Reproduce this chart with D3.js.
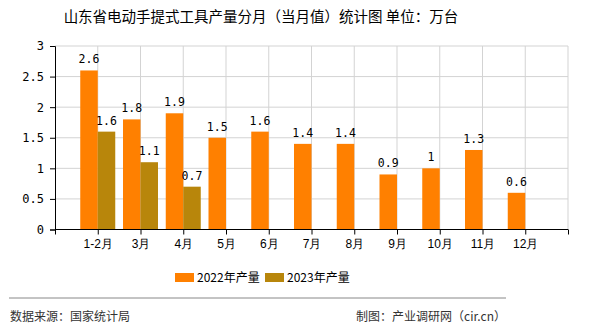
<!DOCTYPE html>
<html><head><meta charset="utf-8">
<script src="https://cdn.jsdelivr.net/npm/d3@7"></script>
<style>body{margin:0;background:#fff;}svg{display:block;font-family:"Noto Sans CJK SC","DejaVu Sans",sans-serif;}</style>
</head><body><svg id="c" width="590" height="330"></svg>
<script>
const categories = ["1-2月","3月","4月","5月","6月","7月","8月","9月","10月","11月","12月"];
const values2022 = [2.6,1.8,1.9,1.5,1.6,1.4,1.4,0.9,1,1.3,0.6];
const values2023 = [1.6,1.1,0.7];
const yTicks = [0,0.5,1,1.5,2,2.5,3];
const seriesNames = ["2022年产量","2023年产量"];
const colors = ["#FF8000","#B8860B"];

const svg = d3.select("#c");
const L=55,R=568,T=46,B=229.5;
const x = d3.scaleLinear().domain([0,categories.length+1]).range([L,R]);
const y = d3.scaleLinear().domain([0,3]).range([B,T]);
const bw = 17.5;

svg.append("text").attr("x",261).attr("y",22).attr("text-anchor","middle")
  .attr("font-size",14.5).attr("fill","#000").text("山东省电动手提式工具产量分月（当月值）统计图 单位：万台");

// grid
const g = svg.append("g");
g.selectAll(".hg").data(yTicks.slice(1)).join("line")
  .attr("x1",L).attr("x2",R).attr("y1",d=>y(d)).attr("y2",d=>y(d))
  .attr("stroke","#d3d3d3").attr("stroke-width",1);
g.selectAll(".vg").data(d3.range(1,categories.length+2)).join("line")
  .attr("x1",d=>x(d)).attr("x2",d=>x(d)).attr("y1",T).attr("y2",B)
  .attr("stroke","#d3d3d3").attr("stroke-width",1);

// bars
svg.append("g").selectAll("rect").data(values2022).join("rect")
  .attr("x",(d,i)=>x(i+1)-bw).attr("width",bw)
  .attr("y",d=>y(d)).attr("height",d=>B-y(d)).attr("fill",colors[0]);
svg.append("g").selectAll("rect").data(values2023).join("rect")
  .attr("x",(d,i)=>x(i+1)).attr("width",bw)
  .attr("y",d=>y(d)).attr("height",d=>B-y(d)).attr("fill",colors[1]);

// labels
const lab = svg.append("g").attr("font-size",11.5).attr("fill","#000").attr("text-anchor","middle")
  .attr("font-family","'DejaVu Sans Mono',monospace");
lab.selectAll(".a").data(values2022).join("text")
  .attr("x",(d,i)=>x(i+1)-bw/2).attr("y",d=>y(d)-7).text(d=>d);
lab.selectAll(".b").data(values2023).join("text")
  .attr("x",(d,i)=>x(i+1)+bw/2).attr("y",d=>y(d)-7).text(d=>d);

// axes
const yAxis = d3.axisLeft(y).tickValues(yTicks).tickSize(5).tickFormat(d=>d);
const ya = svg.append("g").attr("transform",`translate(${L},0)`).call(yAxis);
ya.select(".domain").attr("stroke","#000");
ya.selectAll("text").attr("font-size",12).attr("fill","#000").attr("font-family","'DejaVu Sans Mono',monospace").attr("dx",-3);

const xAxis = d3.axisBottom(x).tickValues(d3.range(0,categories.length+2)).tickSize(5)
  .tickFormat(d=> (d>=1 && d<=categories.length) ? categories[d-1] : "");
const xa = svg.append("g").attr("transform",`translate(0,${B})`).call(xAxis);
xa.select(".domain").attr("stroke","#000").attr("d",`M${L},0H${R}`);
xa.selectAll("text").attr("font-size",12).attr("fill","#000").attr("dy","0.9em");

// legend
const lg = svg.append("g");
const lx=[175,265];
seriesNames.forEach((n,i)=>{
  lg.append("rect").attr("x",lx[i]).attr("y",273).attr("width",19).attr("height",9).attr("fill",colors[i]);
  lg.append("text").attr("x",lx[i]+22).attr("y",282).attr("font-size",12).attr("fill","#000").text(n);
});

// footer
svg.append("line").attr("x1",9).attr("x2",506).attr("y1",298).attr("y2",298).attr("stroke","#888").attr("stroke-width",1);
svg.append("text").attr("x",10).attr("y",321).attr("font-size",12).attr("fill","#333").text("数据来源：国家统计局");
svg.append("text").attr("x",506).attr("y",321).attr("text-anchor","end").attr("font-size",12).attr("fill","#333").text("制图：产业调研网（cir.cn）");
</script></body></html>
